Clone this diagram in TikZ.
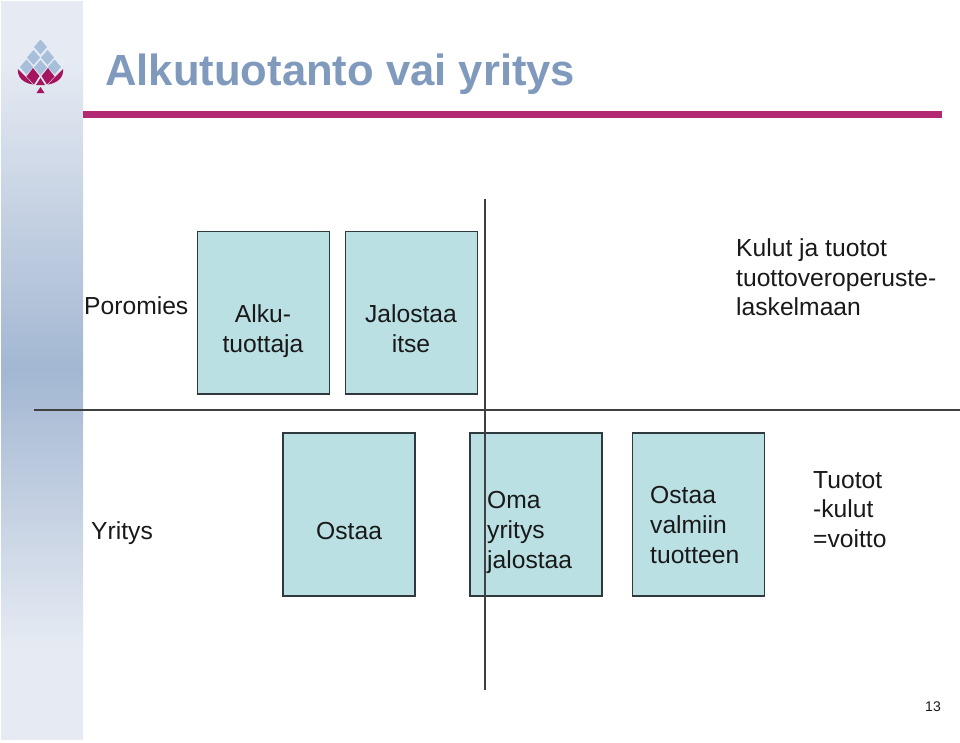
\documentclass[tikz,border=0pt]{standalone}
\usepackage{fontspec}
\setmainfont{Liberation Sans}
\definecolor{boxfill}{HTML}{BAE0E4}
\definecolor{boxline}{HTML}{2F3A3E}
\definecolor{barcol}{HTML}{B12A72}
\definecolor{titlecol}{HTML}{7F9ABD}
\definecolor{sidelight}{HTML}{E6EBF3}
\definecolor{sidedark}{HTML}{A3B7D2}
\definecolor{leafblue}{HTML}{A7BFDA}
\definecolor{leafred}{HTML}{A5145F}
\tikzset{
  card/.style={draw=boxline,line width=1.5pt,fill=boxfill,anchor=north west,inner sep=0pt},
  lbl/.style={font=\fontsize{24.65}{30}\selectfont,text=black!90,inner sep=0pt,align=left},
  clbl/.style={lbl,align=center},
  axis/.style={draw=black!75,line width=1.5pt},
  leaf/.style={fill=leafblue,draw=none},
  petal/.style={fill=leafred,draw=none}
}
\begin{document}
\begin{tikzpicture}[x=1pt,y=-1pt]
\useasboundingbox (0,0) rectangle (960,742);
\fill[white] (0,0) rectangle (960,742);
% sidebar
\fill[sidelight] (1,1) rectangle (83,60);
\shade[top color=sidelight,bottom color=sidedark] (1,60) rectangle (83,370);
\shade[top color=sidedark,bottom color=sidelight] (1,370) rectangle (83,650);
\fill[sidelight] (1,650) rectangle (83,740);
% logo
\foreach \cx/\cy in {40.5/47,33.5/57.5,47.5/57.5,26.5/67,40.5/67.5,54.5/67}
  \fill[leaf] (\cx,\cy-7.5) -- (\cx+6.5,\cy) -- (\cx,\cy+7.5) -- (\cx-6.5,\cy) -- cycle;
\fill[petal] (18,69) .. controls (17,78) and (24,83) .. (33,84.5) -- (25,76) -- cycle;
\fill[petal] (63,69) .. controls (64,78) and (57,83) .. (48,84.5) -- (56,76) -- cycle;
\fill[petal] (33,68) -- (26.5,76.5) -- (34,84.5) -- (39.5,76) -- cycle;
\fill[petal] (48,68) -- (54.5,76.5) -- (47,84.5) -- (41.5,76) -- cycle;
\fill[petal] (40.5,78) -- (36,85) -- (45,85) -- cycle;
\fill[petal] (40.5,87) -- (36.5,93) -- (44.5,93) -- cycle;
% title and bar
\node[anchor=base west,inner sep=0pt,font=\fontsize{43.6}{50}\selectfont\bfseries,text=titlecol] (title) at (105,85) {Alkutuotanto vai yritys};
\fill[barcol] (83,111) rectangle (942,118);
% cards
\node[card,minimum width=132pt,minimum height=162.5pt] (a) at (196.8,230.8) {};
\node[card,minimum width=132pt,minimum height=162.5pt] (b) at (344.8,230.8) {};
\node[card,minimum width=132pt,minimum height=163pt] (c) at (282,432.3) {};
\node[card,minimum width=132pt,minimum height=163pt] (d) at (469,432.3) {};
\node[card,minimum width=132pt,minimum height=163pt] (e) at (631.6,432.3) {};
% axes
\coordinate (vtop) at (485,199);
\coordinate (vbot) at (485,690);
\coordinate (hl) at (34,410);
\coordinate (hr) at (960,410);
\draw[axis] (vtop) -- (vbot);
\draw[axis] (hl) -- (hr);
% texts
\node[lbl,anchor=base west] (t1) at (84,314) {Poromies};
\node[clbl,anchor=base] (t2) at (263,322) {Alku-};
\node[clbl,anchor=base] (t2b) at (263,352) {tuottaja};
\node[clbl,anchor=base] (t3) at (411,322) {Jalostaa};
\node[clbl,anchor=base] (t3b) at (411,352) {itse};
\node[lbl,anchor=base west] (t4) at (736,256) {Kulut ja tuotot};
\node[lbl,anchor=base west] (t4b) at (736,286) {tuottoveroperuste-};
\node[lbl,anchor=base west] (t4c) at (736,315) {laskelmaan};
\node[lbl,anchor=base west] (t5) at (91,539) {Yritys};
\node[lbl,anchor=base west] (t6) at (316,539) {Ostaa};
\node[lbl,anchor=base west] (t7) at (487,508) {Oma};
\node[lbl,anchor=base west] (t7b) at (487,538) {yritys};
\node[lbl,anchor=base west] (t7c) at (487,568) {jalostaa};
\node[lbl,anchor=base west] (t8) at (650,503) {Ostaa};
\node[lbl,anchor=base west] (t8b) at (650,533) {valmiin};
\node[lbl,anchor=base west] (t8c) at (650,563) {tuotteen};
\node[lbl,anchor=base west] (t9) at (813,488) {Tuotot};
\node[lbl,anchor=base west] (t9b) at (813,517) {-kulut};
\node[lbl,anchor=base west] (t9c) at (813,547) {=voitto};
\node[anchor=base east,inner sep=0pt,font=\fontsize{14}{16}\selectfont,text=black!90] (pg) at (941,711) {13};
\end{tikzpicture}
\end{document}
